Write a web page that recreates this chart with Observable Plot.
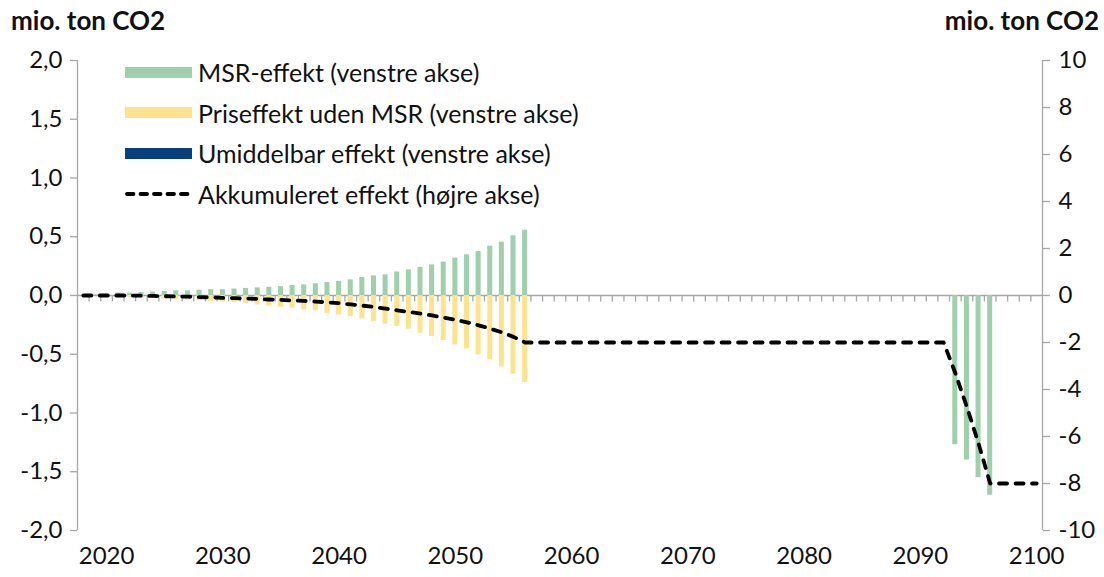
<!DOCTYPE html>
<html><head><meta charset="utf-8">
<script src="https://cdn.jsdelivr.net/npm/d3@7"></script>
<script src="https://cdn.jsdelivr.net/npm/@observablehq/plot@0.6"></script>
<style>
body{margin:0;background:#fff;font-family:Lato,"Open Sans",sans-serif;}
#wrap{position:relative;width:1104px;height:577px;overflow:hidden;}
.title{position:absolute;top:4px;font-weight:bold;font-size:26px;color:#111;white-space:nowrap;}
.legend{position:absolute;left:125px;top:52px;font-size:25px;color:#111;}
.item{position:absolute;left:0;display:flex;align-items:center;height:40px;white-space:nowrap;}
.sw{width:67px;height:11px;margin-right:6px;}
.item svg{margin-right:4px;}
</style></head>
<body><div id="wrap"></div>
<script>
// Categories (years)
const msrYears = [2018,2019,2020,2021,2022,2023,2024,2025,2026,2027,2028,2029,2030,2031,2032,2033,2034,2035,
  2036,2037,2038,2039,2040,2041,2042,2043,2044,2045,2046,2047,2048,2049,2050,2051,2052,2053,2054,2055,2056,
  2093,2094,2095,2096];
const msrValues = [0,0.005,0.01,0.02,0.02,0.025,0.03,0.035,0.04,0.04,0.045,0.05,0.05,0.055,0.06,0.065,0.07,0.075,
  0.085,0.09,0.10,0.11,0.12,0.133,0.153,0.167,0.176,0.20,0.218,0.24,0.26,0.284,0.318,0.346,0.374,0.42,0.454,0.508,0.555,
  -1.27,-1.40,-1.55,-1.70];
const priceYears = [2018,2019,2020,2021,2022,2023,2024,2025,2026,2027,2028,2029,2030,2031,2032,2033,2034,2035,
  2036,2037,2038,2039,2040,2041,2042,2043,2044,2045,2046,2047,2048,2049,2050,2051,2052,2053,2054,2055,2056];
const priceValues = [0,0,-0.005,-0.01,-0.015,-0.02,-0.025,-0.03,-0.035,-0.04,-0.045,-0.05,-0.055,-0.06,-0.07,-0.08,-0.09,-0.1,
  -0.108,-0.122,-0.13,-0.153,-0.165,-0.179,-0.2,-0.221,-0.244,-0.264,-0.287,-0.32,-0.349,-0.383,-0.42,-0.454,-0.505,-0.547,-0.607,-0.67,-0.74];
const immYears = [2018];
const immValues = [0];
const accYears = [2018,2019,2020,2021,2022,2023,2024,2025,2026,2027,2028,2029,2030,2031,2032,2033,2034,2035,
  2036,2037,2038,2039,2040,2041,2042,2043,2044,2045,2046,2047,2048,2049,2050,2051,2052,2053,2054,2055,2056,
  2092,2093,2094,2095,2096,2100];
const accValues = [0,0,0,0,0,-0.01,-0.02,-0.03,-0.04,-0.05,-0.07,-0.08,-0.1,-0.11,-0.13,-0.15,-0.17,-0.19,
  -0.21,-0.23,-0.26,-0.29,-0.33,-0.38,-0.43,-0.49,-0.56,-0.63,-0.7,-0.77,-0.85,-0.94,-1.03,-1.14,-1.27,-1.41,-1.57,-1.76,-2.0,
  -2.0,-3.3,-4.75,-6.3,-8.0,-8.0];
const xTicks = [2020,2030,2040,2050,2060,2070,2080,2090,2100];
const leftTicks = [-2,-1.5,-1,-0.5,0,0.5,1,1.5,2];
const rightTicks = [-10,-8,-6,-4,-2,0,2,4,6,8,10];
const firstYear = 2018, lastYear = 2100;
const seriesNames = ["MSR-effekt (venstre akse)","Priseffekt uden MSR (venstre akse)","Umiddelbar effekt (venstre akse)","Akkumuleret effekt (højre akse)"];
const axisTitle = "mio. ton CO2";

const GREEN = "#9dd0ab", YELLOW = "#ffe38c", NAVY = "#0a3f7d", GRAY = "#a6a6a6";
const RATIO = 5; // right axis units per left axis unit
const DASH = "8,8.5";

const msr = msrYears.map((y,i)=>({year:y, v:msrValues[i]}));
const price = priceYears.map((y,i)=>({year:y, v:priceValues[i]}));
const imm = immYears.map((y,i)=>({year:y, v:immValues[i]}));
const acc = accYears.map((y,i)=>({year:y, v:accValues[i]}));
const boundaries = d3.range(firstYear + 0.5, lastYear, 1);

const barOpts = (fill) => ({x1: d=>d.year-0.5, x2: d=>d.year+0.5, y1: 0, y2: d=>d.v, fill, insetLeft:3.3, insetRight:3.3});

const chart = Plot.plot({
  width:1104, height:577,
  marginTop:60, marginBottom:47, marginLeft:77, marginRight:62,
  x:{domain:[firstYear-0.5, lastYear+0.5]},
  y:{domain:[-2,2]},
  style:{fontFamily:"Lato, 'Open Sans', sans-serif", fontSize:"24px", color:"#111", background:"#fff", overflow:"visible"},
  marks:[
    Plot.ruleY([0], {stroke:GRAY, strokeWidth:1.3}),
    Plot.ruleX(boundaries, {x:d=>d, y1:0, y2:-0.055, stroke:GRAY, strokeWidth:1.3}),
    Plot.rect(msr, barOpts(GREEN)),
    Plot.rect(price, barOpts(YELLOW)),
    Plot.rect(imm, barOpts(NAVY)),
    Plot.line(acc, {x:"year", y:d=>d.v/RATIO, stroke:"#000", strokeWidth:3.8, strokeDasharray:DASH, strokeLinecap:"round"}),
    Plot.ruleX([firstYear-0.5], {stroke:GRAY, strokeWidth:1.3}),
    Plot.ruleX([lastYear+0.5], {stroke:GRAY, strokeWidth:1.3}),
    Plot.axisY({anchor:"left", ticks:leftTicks, tickFormat:d=>d.toFixed(1).replace(".",","), tickSize:7, tickPadding:8, stroke:GRAY, strokeWidth:1.3, label:null}),
    Plot.axisY({anchor:"right", ticks:rightTicks.map(t=>t/RATIO), tickFormat:d=>String(Math.round(d*RATIO)), tickSize:7, tickPadding:9, stroke:GRAY, strokeWidth:1.3, label:null}),
    Plot.axisX({anchor:"bottom", ticks:xTicks, tickFormat:d=>String(d), tickSize:0, tickPadding:16, label:null})
  ]
});
const wrap = document.getElementById("wrap");
wrap.appendChild(chart);

function addDiv(cls, text, style){ const d=document.createElement("div"); d.className=cls; if(text) d.textContent=text; Object.assign(d.style, style||{}); wrap.appendChild(d); return d; }
addDiv("title", axisTitle, {left:"11px"});
addDiv("title", axisTitle, {right:"5px"});
const legend = addDiv("legend", null, {});
const sw = [GREEN, YELLOW, NAVY, null];
seriesNames.forEach((name,i)=>{
  const it=document.createElement("div"); it.className="item"; it.style.top=(i*40.5)+"px";
  if(sw[i]){ const s=document.createElement("div"); s.className="sw"; s.style.background=sw[i]; it.appendChild(s); }
  else {
    const ns="http://www.w3.org/2000/svg";
    const s=document.createElementNS(ns,"svg"); s.setAttribute("width","69"); s.setAttribute("height","10");
    const l=document.createElementNS(ns,"line");
    l.setAttribute("x1","2"); l.setAttribute("x2","67"); l.setAttribute("y1","5"); l.setAttribute("y2","5");
    l.setAttribute("stroke","#000"); l.setAttribute("stroke-width","3.8"); l.setAttribute("stroke-linecap","round");
    l.setAttribute("stroke-dasharray","6.5,7");
    s.appendChild(l); it.appendChild(s);
  }
  const t=document.createElement("span"); t.textContent=name; it.appendChild(t);
  legend.appendChild(it);
});
</script>
</body></html>
